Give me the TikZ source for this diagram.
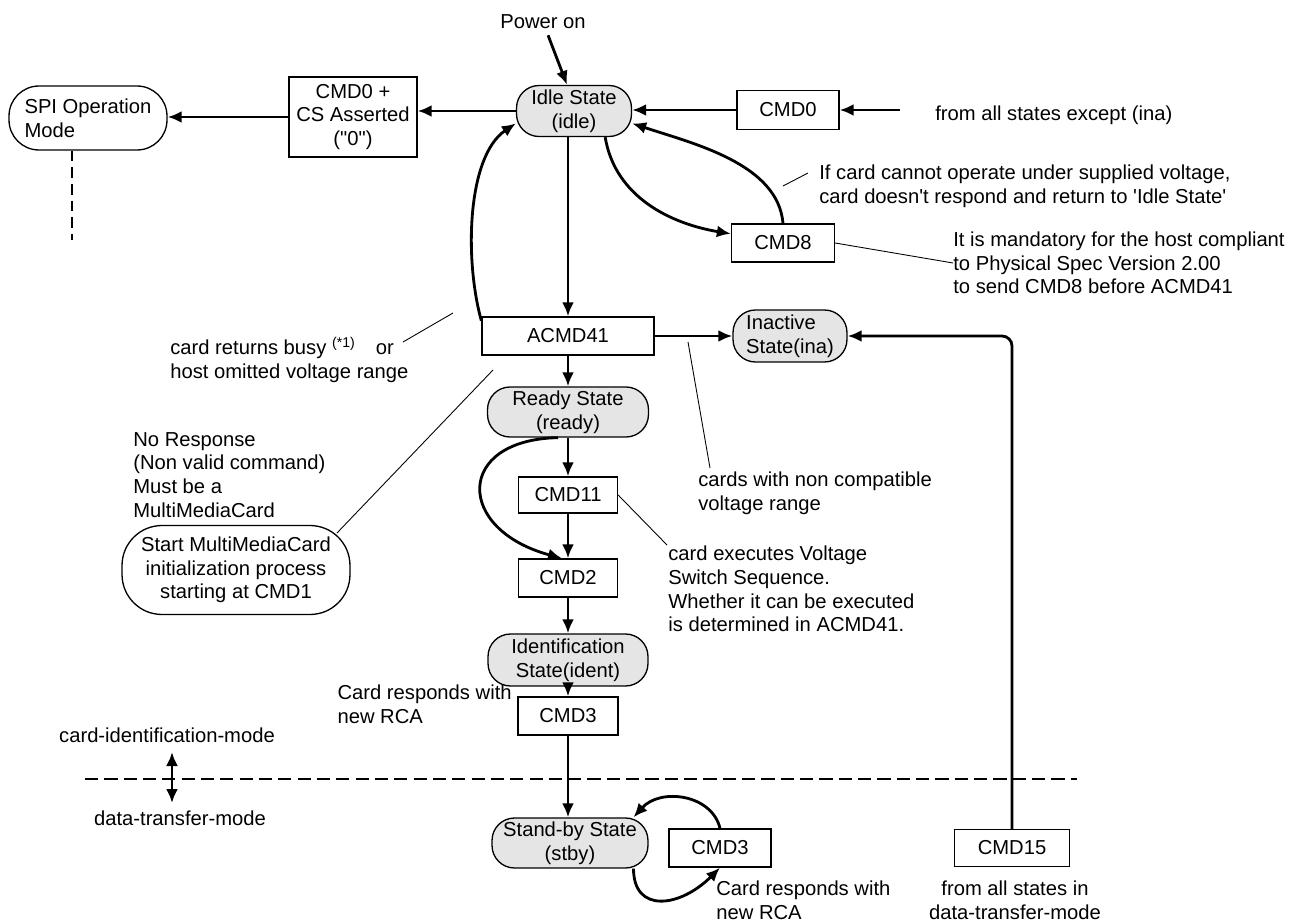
\documentclass[tikz,border=0pt]{standalone}
\usepackage{fontspec}
\setmainfont{Liberation Sans}[Ligatures=TeXOff]
\usetikzlibrary{arrows.meta}

\begin{document}
\begin{tikzpicture}[x=0.02cm,y=-0.02cm,
        font=\fontsize{11.5}{13.5}\selectfont,
        cmdbox/.style={draw,line width=0.75pt,inner sep=0pt,minimum height=0.76cm},
        cardstate/.style={draw,line width=0.75pt,fill=gray!20,rounded corners=0.45cm,inner sep=0pt,align=center,minimum height=1cm},
        flow/.style={line width=1.6pt,-{Latex[length=2.8mm,width=2.4mm]}},
        note/.style={align=left,inner sep=0pt},
        pointer/.style={line width=0.5pt}]
        \useasboundingbox (0,0) rectangle (1289,922);
        \node[cardstate,minimum width=2.3cm,minimum height=1.02cm] (idle) at (574,111) {Idle State\\(idle)};
        \node[cmdbox,minimum width=2.56cm,minimum height=1.6cm,align=center] (cmdcs) at (353,117) {CMD0 +\\CS Asserted\\("0")};
        \node[cardstate,fill=white,minimum width=3.16cm,minimum height=1.28cm,rounded corners=0.6cm,align=left] (spi) at (88,118) {SPI Operation\\Mode};
        \node[cmdbox,minimum width=2.04cm,minimum height=0.78cm] (cmdzero) at (788,110) {CMD0};
        \node[cmdbox,minimum width=2.06cm] (cmdeight) at (783,243) {CMD8};
        \node[cmdbox,minimum width=3.44cm] (acmd) at (568,336) {ACMD41};
        \node[cardstate,minimum width=2.28cm,minimum height=1.04cm,align=left] (inactive) at (790,336) {Inactive\\State(ina)};
        \node[cardstate,minimum width=3.22cm] (ready) at (568,412) {Ready State\\(ready)};
        \node[cmdbox,minimum width=1.98cm,minimum height=0.72cm] (cmdeleven) at (568,495) {CMD11};
        \node[cmdbox,minimum width=1.98cm] (cmdtwo) at (568,578) {CMD2};
        \node[cardstate,minimum width=3.2cm,minimum height=1.04cm] (ident) at (568,660) {Identification\\State(ident)};
        \node[cmdbox,minimum width=2cm] (cmdthree) at (568,716) {CMD3};
        \node[cardstate,minimum width=3.12cm] (stby) at (570,843) {Stand-by State\\(stby)};
        \node[cmdbox,minimum width=2.04cm] (cmdthreeb) at (720,848) {CMD3};
        \node[cmdbox,minimum width=2.3cm,minimum height=0.74cm] (cmdfifteen) at (1012,848) {CMD15};
        \node[cardstate,fill=white,minimum width=4.56cm,minimum height=1.78cm,rounded corners=0.8cm] (mmc) at (236,570) {Start MultiMediaCard\\initialization process\\starting at CMD1};

        \node (poweron) at (543,22) {Power on};
        \node[note,anchor=west] (except) at (935,115) {from all states except (ina)};
        \node[note,anchor=west] (ifcard) at (819,186) {If card cannot operate under supplied voltage,\\card doesn't respond and return to 'Idle State'};
        \node[note,anchor=west] (mandatory) at (953,263) {It is mandatory for the host compliant\\to Physical Spec Version 2.00\\to send CMD8 before ACMD41};
        \node[note,anchor=west] (busy) at (170,360) {card returns busy \textsuperscript{(*1)}\quad or\\host omitted voltage range};
        \node[note,anchor=west] (noresp) at (133,475) {No Response\\(Non valid command)\\Must be a\\MultiMediaCard};
        \node[note,anchor=west] (cardsnon) at (698,493) {cards with non compatible\\voltage range};
        \node[note,anchor=west] (voltsw) at (668,589) {card executes Voltage\\Switch Sequence.\\Whether it can be executed\\is determined in ACMD41.};
        \node[note,anchor=east] (respa) at (512,704) {Card responds with\\new RCA};
        \node[note,anchor=west] (respb) at (716,900) {Card responds with\\new RCA};
        \node[note,align=center] (fromdt) at (1015,900) {from all states in\\data-transfer-mode};
        \node (cidm) at (167,735) {card-identification-mode};
        \node (dtm) at (180,818) {data-transfer-mode};

        \coordinate (exceptin) at (900,110);
        \coordinate (spiend) at (72,240);
        \coordinate (ifcarda) at (783,186);
        \coordinate (ifcardb) at (808,173);
        \coordinate (busya) at (403,342);
        \coordinate (busyb) at (453,313);
        \coordinate (mmctip) at (337,533);
        \coordinate (mmcend) at (493,370);
        \coordinate (inanote) at (688,342);
        \coordinate (inanoteend) at (710,468);
        \coordinate (voltnote) at (667,545);
        \coordinate (modeup) at (172,752);
        \coordinate (modedown) at (172,803);
        \coordinate (dashl) at (85,779);
        \coordinate (dashr) at (1077,779);

        \draw[line width=1.5pt,dash pattern=on 7.5pt off 3.5pt] (dashl) -- (dashr);
        \draw[line width=1.2pt,dash pattern=on 6pt off 3.5pt] (spi.south -| spiend) -- (spiend);
        \draw[flow] (poweron) -- ([xshift=-0.14cm]idle.north);
        \draw[flow] (idle.west) -- (idle.west -| cmdcs.east);
        \draw[flow] (cmdcs.west) -- (cmdcs.west -| spi.east);
        \draw[flow] (exceptin) -- (cmdzero.east);
        \draw[flow] (cmdzero.west) -- (cmdzero.west -| idle.east);
        \draw[flow] (idle.-40) .. controls +(10,60) and +(-60,-10) .. (cmdeight.170);
        \draw[flow] (cmdeight.north) .. controls +(-5,-60) and +(60,20) .. (idle.-12);
        \draw[flow] (idle.south -| acmd.north) -- (acmd.north);
        \draw[flow] (acmd.170) .. controls +(-17,-61) and +(-49,33) .. (idle.192);
        \draw[flow] (acmd.east) -- (inactive.west);
        \draw[flow,rounded corners=0.2cm] (cmdfifteen.north) |- (inactive.east);
        \draw[flow] (acmd.south) -- (ready.north);
        \draw[flow] (ready.south) -- (cmdeleven.north);
        \draw[flow] (cmdeleven.south) -- (cmdtwo.north);
        \draw[flow] (cmdtwo.south) -- (ident.north);
        \draw[flow] (ident.south) -- (cmdthree.north);
        \draw[flow] (cmdthree.south) -- (cmdthree.south |- stby.north);
        \draw[flow] ([xshift=-0.2cm]ready.south) .. controls +(-103,2) and +(-107,-29) .. ([xshift=-0.12cm]cmdtwo.north);
        \draw[flow] (cmdthreeb.north) .. controls +(-8,-34) and +(27,-30) .. (stby.22);
        \draw[flow] (stby.-22) .. controls +(0,45) and +(-40,40) .. (cmdthreeb.south);
        \draw[pointer] (ifcarda) -- (ifcardb);
        \draw[pointer] (cmdeight.east) -- (mandatory.west);
        \draw[pointer] (busya) -- (busyb);
        \draw[pointer] (mmctip) -- (mmcend);
        \draw[pointer] (inanote) -- (inanoteend);
        \draw[pointer] (cmdeleven.east) -- (voltnote);
        \draw[line width=1.6pt,{Latex[length=2.8mm,width=2.4mm]}-{Latex[length=2.8mm,width=2.4mm]}] (modeup) -- (modedown);
\end{tikzpicture}
\end{document}
